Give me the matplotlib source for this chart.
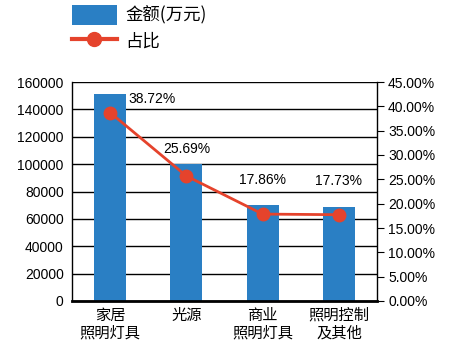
import matplotlib.pyplot as plt
from matplotlib.lines import Line2D
from matplotlib.patches import Patch

plt.rcParams['font.family'] = ['Liberation Sans', 'Noto Sans CJK SC', 'DejaVu Sans']

categories = ['家居\n照明灯具', '光源', '商业\n照明灯具', '照明控制\n及其他']
amounts = [151000, 100000, 70000, 68500]
shares = [38.72, 25.69, 17.86, 17.73]
left_ticks = [0, 20000, 40000, 60000, 80000, 100000, 120000, 140000, 160000]
right_ticks = [0, 5, 10, 15, 20, 25, 30, 35, 40, 45]

bar_color = '#2a7fc4'
line_color = '#e5432c'

fig = plt.figure(figsize=(4.75, 3.52), dpi=100)
ax = fig.add_axes([72 / 475, 1 - 301 / 352, 305 / 475, 219 / 352])
x = range(len(categories))
ax.bar(x, amounts, width=0.42, color=bar_color, zorder=2)
ax.set_xlim(-0.5, len(categories) - 0.5)
ax.set_ylim(0, 160000)
ax.set_yticks(left_ticks)
ax.set_yticklabels([str(t) for t in left_ticks], fontsize=10)
ax.yaxis.grid(True, color='black', linewidth=1, zorder=0)
ax.set_axisbelow(True)
ax.tick_params(axis='y', length=0, pad=6)
ax.tick_params(axis='x', length=0, pad=4)
ax.set_xticks(list(x))
ax.set_xticklabels(categories, fontsize=11, family=['Noto Sans CJK SC'], linespacing=1.05)
for s in ['top', 'right']:
    ax.spines[s].set_visible(False)
ax.spines['left'].set_linewidth(1)
ax.spines['bottom'].set_linewidth(2)

ax2 = ax.twinx()
ax2.plot(x, shares, color=line_color, linewidth=2, marker='o', markersize=9, zorder=3)
ax2.set_ylim(0, 45)
ax2.set_yticks(right_ticks)
ax2.set_yticklabels([f'{t:.2f}%' for t in right_ticks], fontsize=10)
ax2.tick_params(axis='y', length=5, direction='out', pad=3)
for s in ['top', 'left', 'bottom']:
    ax2.spines[s].set_visible(False)
ax2.spines['right'].set_linewidth(1)

offsets = [(0.55, 2.8), (0, 5.5), (0, 7.0), (0, 7.0)]
for i, v in enumerate(shares):
    dx, dy = offsets[i]
    ax2.text(i + dx, v + dy, f'{v:.2f}%', ha='center', va='center', fontsize=10)

handles = [Patch(facecolor=bar_color, edgecolor='none'),
           Line2D([0], [0], color=line_color, linewidth=3, marker='o', markersize=10)]
fig.legend(handles, ['金额(万元)', '占比'], loc='upper left', bbox_to_anchor=(56 / 475, 1.03),
           frameon=False, prop={'family': 'Noto Sans CJK SC', 'size': 12.5},
           handlelength=2.6, handleheight=1.4, labelspacing=0.35, handletextpad=0.5)

fig.savefig('out.png', dpi=100)
